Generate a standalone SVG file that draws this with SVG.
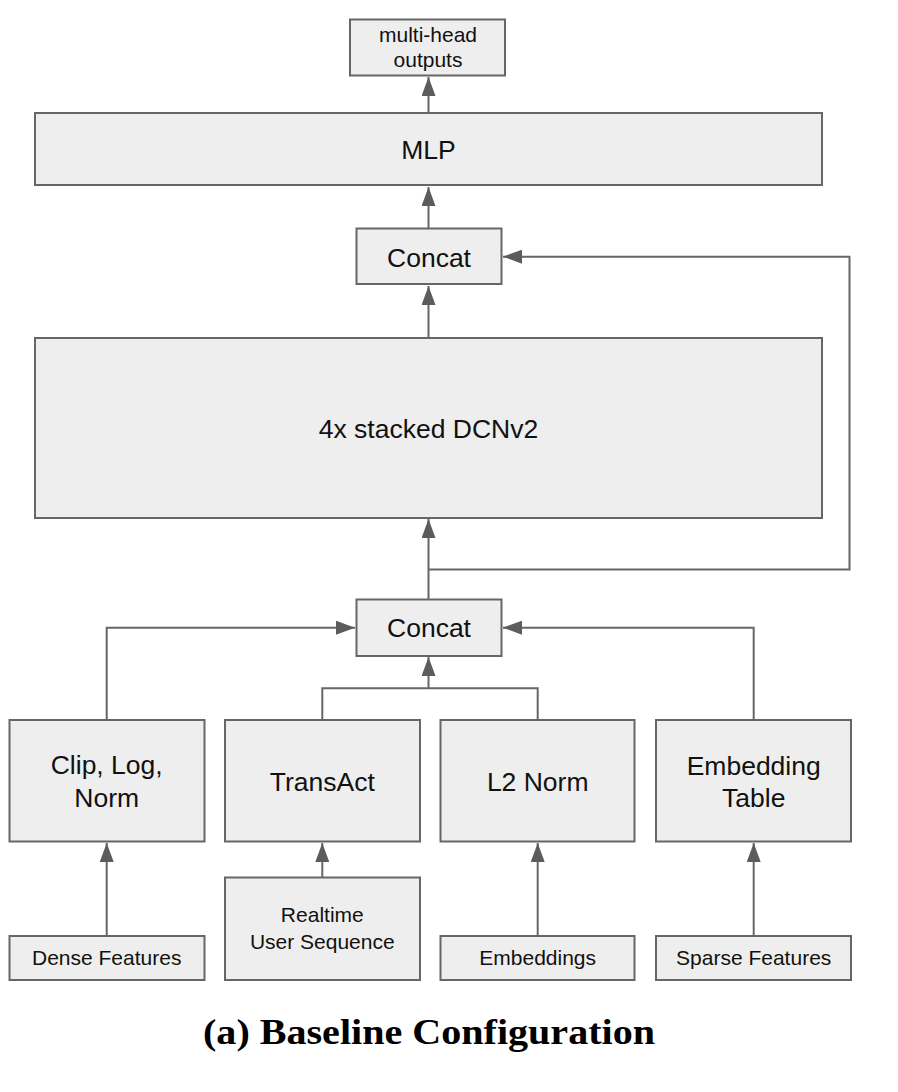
<svg xmlns="http://www.w3.org/2000/svg" width="898" height="1092" viewBox="0 0 898 1092">
<style>
  .box { fill: #eeeeee; stroke: #666666; stroke-width: 2; }
  .lbl { font-family: "Liberation Sans", Arial, sans-serif; fill: #111111; text-anchor: middle; }
  .big { font-size: 26.5px; }
  .sm { font-size: 21px; }
  .conn { fill: none; stroke: #666666; stroke-width: 2; }
  .cap { font-family: "Liberation Serif", "Times New Roman", serif; font-weight: bold; font-size: 35px; fill: #000000; text-anchor: middle; }
</style>
<defs>
  <marker id="arr" markerUnits="userSpaceOnUse" markerWidth="20" markerHeight="14" refX="19" refY="7" orient="auto">
    <path d="M0,0 L19,7 L0,14 Z" fill="#5c5c5c"/>
  </marker>
</defs>
<rect width="898" height="1092" fill="#ffffff"/>

<g id="connectors">
  <path class="conn" d="M428.5 113 V77" marker-end="url(#arr)"/>
  <path class="conn" d="M428.5 229 V187" marker-end="url(#arr)"/>
  <path class="conn" d="M428.5 338 V286" marker-end="url(#arr)"/>
  <path class="conn" d="M428.5 599 V519" marker-end="url(#arr)"/>
  <path class="conn" d="M428.5 569.5 H849.5 V256.7 H503" marker-end="url(#arr)"/>
  <path class="conn" d="M106.7 720 V627.7 H355" marker-end="url(#arr)"/>
  <path class="conn" d="M753.7 720 V627.7 H503" marker-end="url(#arr)"/>
  <path class="conn" d="M322.3 720 V688.3 H537.7 V720"/>
  <path class="conn" d="M428.5 688.3 V657" marker-end="url(#arr)"/>
  <path class="conn" d="M106.7 936 V843" marker-end="url(#arr)"/>
  <path class="conn" d="M322.3 877 V843" marker-end="url(#arr)"/>
  <path class="conn" d="M537.7 936 V843" marker-end="url(#arr)"/>
  <path class="conn" d="M753.7 936 V843" marker-end="url(#arr)"/>
</g>

<g id="multihead">
  <rect class="box" x="350" y="19.5" width="155" height="56"/>
  <text class="lbl sm" x="428" y="42.3">multi-head</text>
  <text class="lbl sm" x="428" y="67.3">outputs</text>
</g>
<g id="mlp">
  <rect class="box" x="35" y="113" width="787" height="72"/>
  <text class="lbl big" x="428.5" y="159.3">MLP</text>
</g>
<g id="concat_top">
  <rect class="box" x="356.5" y="228.5" width="145" height="55.5"/>
  <text class="lbl big" x="429" y="266.7">Concat</text>
</g>
<g id="dcnv2">
  <rect class="box" x="35" y="338" width="787" height="180"/>
  <text class="lbl big" x="428.5" y="437.7">4x stacked DCNv2</text>
</g>
<g id="concat_bottom">
  <rect class="box" x="356.5" y="599.5" width="145" height="56.5"/>
  <text class="lbl big" x="429" y="637.3">Concat</text>
</g>
<g id="clip">
  <rect class="box" x="9.5" y="720" width="195" height="121.5"/>
  <text class="lbl big" x="106.7" y="774">Clip, Log,</text>
  <text class="lbl big" x="106.7" y="806.7">Norm</text>
</g>
<g id="transact">
  <rect class="box" x="225" y="720" width="195" height="121.5"/>
  <text class="lbl big" x="322.3" y="790.5">TransAct</text>
</g>
<g id="l2norm">
  <rect class="box" x="440.5" y="720" width="194" height="121.5"/>
  <text class="lbl big" x="537.7" y="790.5">L2 Norm</text>
</g>
<g id="embtable">
  <rect class="box" x="656" y="720" width="195" height="121.5"/>
  <text class="lbl big" x="753.7" y="775">Embedding</text>
  <text class="lbl big" x="753.7" y="806.7">Table</text>
</g>
<g id="dense">
  <rect class="box" x="9.5" y="936" width="195" height="44"/>
  <text class="lbl sm" x="106.7" y="965">Dense Features</text>
</g>
<g id="realtime">
  <rect class="box" x="225" y="877.5" width="195" height="102.5"/>
  <text class="lbl sm" x="322.3" y="922.3">Realtime</text>
  <text class="lbl sm" x="322.3" y="949.3">User Sequence</text>
</g>
<g id="embeddings">
  <rect class="box" x="440.5" y="936" width="194" height="44"/>
  <text class="lbl sm" x="537.7" y="965">Embeddings</text>
</g>
<g id="sparse">
  <rect class="box" x="656" y="936" width="195" height="44"/>
  <text class="lbl sm" x="753.7" y="965">Sparse Features</text>
</g>

<text class="cap" x="429" y="1044" textLength="452" lengthAdjust="spacingAndGlyphs">(a) Baseline Configuration</text>
</svg>
